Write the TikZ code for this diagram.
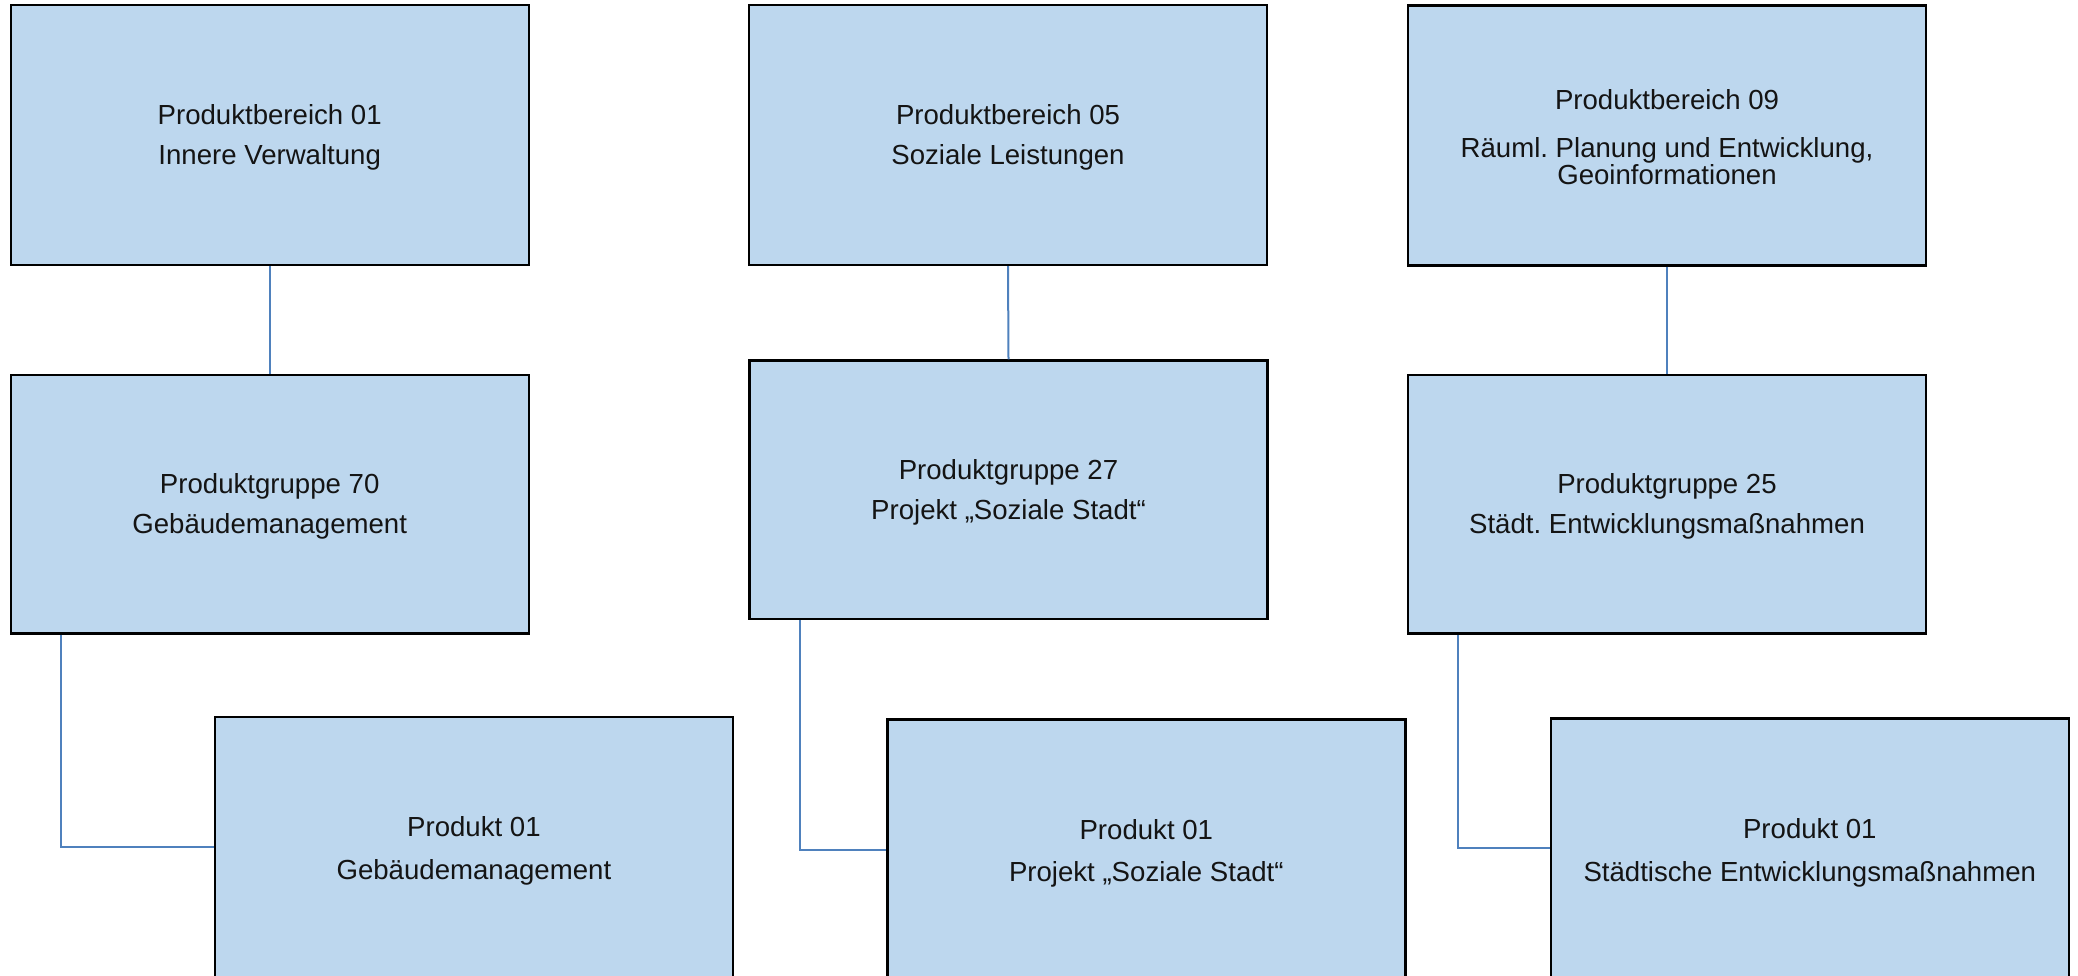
\documentclass[tikz,border=0pt]{standalone}
\usepackage{fontspec}
\setmainfont{Liberation Sans}
\frenchspacing
\definecolor{boxfill}{RGB}{189,215,238}
\definecolor{linkblue}{RGB}{79,129,189}
\definecolor{txt}{RGB}{20,20,20}
\begin{document}
\begin{tikzpicture}[x=1pt,y=-1pt,
  box/.style={draw=black, line width=2.4pt, fill=boxfill, minimum width=518pt, minimum height=260pt, inner sep=0pt},
  label text/.style={align=center, text=txt, inner sep=0pt, font=\fontsize{27.6}{32}\selectfont},
  link/.style={draw=linkblue, line width=2pt}]
\useasboundingbox (0,0) rectangle (2078,976);
\node[box] (A) at (269.7,135) {};
\node[box] (B) at (1008,135) {};
\node[box] (C) at (1667,135.5) {};
\node[box, minimum height=258.5pt] (D) at (269.7,504.3) {};
\node[box, minimum height=258.5pt] (E) at (1008.5,489.8) {};
\node[box, minimum height=258.5pt] (F) at (1667,504.3) {};
\node[box] (G) at (473.9,847) {};
\node[box] (H) at (1146.3,849.6) {};
\node[box] (I) at (1809.8,848.3) {};
\node[label text] (At) at ([yshift=-2pt]A.center) {Produktbereich 01\\[8pt]Innere Verwaltung};
\node[label text] (Bt) at ([yshift=-2pt]B.center) {Produktbereich 05\\[8pt]Soziale Leistungen};
\node[label text] (Ct) at ([yshift=-1.3pt]C.center) {Produktbereich 09\\[16.4pt]Räuml. Planung und Entwicklung,\\[-5.7pt]Geoinformationen};
\node[label text] (Dt) at ([yshift=-2pt]D.center) {Produktgruppe 70\\[8pt]Gebäudemanagement};
\node[label text] (Et) at ([yshift=-2.7pt]E.center) {Produktgruppe 27\\[8pt]Projekt „Soziale Stadt“};
\node[label text] (Ft) at ([yshift=-2pt]F.center) {Produktgruppe 25\\[8pt]Städt. Entwicklungsmaßnahmen};
\node[label text] (Gt) at ([yshift=-4.3pt]G.center) {Produkt 01\\[11pt]Gebäudemanagement};
\node[label text] (Ht) at ([yshift=-4pt]H.center) {Produkt 01\\[10.5pt]Projekt „Soziale Stadt“};
\node[label text] (It) at ([yshift=-4.3pt]I.center) {Produkt 01\\[11pt]Städtische Entwicklungsmaßnahmen};
\draw[link] (A.south) -- (D.north);
\draw[link] (B.south) -- (E.north);
\draw[link] (C.south) -- (F.north);
\draw[link] ([xshift=51.5pt]D.south west) |- (G.west);
\draw[link] ([xshift=51.5pt]E.south west) |- (H.west);
\draw[link] ([xshift=51.5pt]F.south west) |- (I.west);
\end{tikzpicture}
\end{document}
